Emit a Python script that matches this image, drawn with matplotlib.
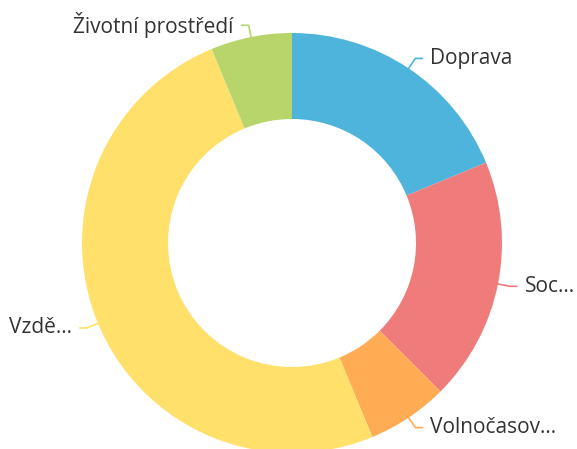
import numpy as np
import matplotlib.pyplot as plt

# Category counts, clockwise from the top
labels = ["Doprava", "Soc...", "Volnočasov...", "Vzdě...", "Životní prostředí"]
values = [3, 3, 1, 8, 1]
colors = ["#4fb4db", "#f07b7b", "#ffac55", "#ffe06a", "#b8d56b"]

plt.rcParams['font.family'] = ['Open Sans', 'DejaVu Sans']

W, H = 577, 449
fig = plt.figure(figsize=(W / 100, H / 100), dpi=100)
ax = fig.add_axes([0, 0, 1, 1])

cx, cy = 292, 206
R = 210
wedges, _ = ax.pie(values, colors=colors, startangle=90, counterclock=False,
                   radius=R, center=(cx, cy), frame=True,
                   wedgeprops=dict(width=86, linewidth=0))

# label lines: short radial piece then horizontal stub
for w, lab, col in zip(wedges, labels, colors):
    ang = np.deg2rad((w.theta1 + w.theta2) / 2)
    x0 = cx + R * np.cos(ang)
    y0 = cy + R * np.sin(ang)
    x1 = cx + (R + 12) * np.cos(ang)
    y1 = cy + (R + 12) * np.sin(ang)
    side = 1 if np.cos(ang) >= 0 else -1
    x2 = x1 + side * 7
    ax.plot([x0, x1, x2], [y0, y1, y1], color=col, lw=1.2, solid_joinstyle="round")
    ax.text(x2 + side * 8, y1, lab, ha="left" if side > 0 else "right",
            va="center", fontsize=15, color="#333333")

ax.set_xlim(0, W)
ax.set_ylim(0, H)
ax.set_aspect("equal")
ax.axis("off")

fig.savefig("out.png", dpi=100)
